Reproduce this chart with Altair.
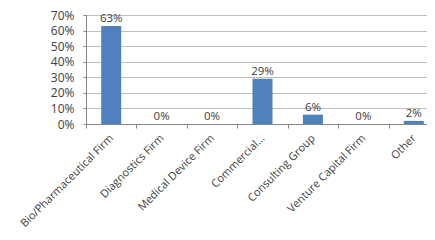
import altair as alt
import pandas as pd

categories = ["Bio/Pharmaceutical Firm", "Diagnostics Firm", "Medical Device Firm",
              "Commercial...", "Consulting Group", "Venture Capital Firm", "Other"]
values = [63, 0, 0, 29, 6, 0, 2]

df = pd.DataFrame({"cat": categories, "val": [v / 100 for v in values]})

font = "Open Sans"

x = alt.X("cat:N", sort=categories, title=None,
          scale=alt.Scale(paddingInner=0, paddingOuter=0, range=[0, 353]),
          axis=alt.Axis(labelAngle=-45, labelAlign="right", labelBaseline="top",
                        labelFont=font, labelFontSize=11, labelColor="#404040",
                        tickBand="extent", tickSize=4, tickColor="#868686",
                        domainColor="#868686", labelPadding=4, labelOffset=-4,
                        grid=False))
y = alt.Y("val:Q", title=None,
          scale=alt.Scale(domain=[0, 0.7], nice=False),
          axis=alt.Axis(format=".0%", values=[0, 0.1, 0.2, 0.3, 0.4, 0.5, 0.6, 0.7],
                        labelFont=font, labelFontSize=12, labelColor="#404040",
                        tickSize=3, tickColor="#868686", domainColor="#868686",
                        gridColor="#BFBFBF", labelPadding=9))

bars = alt.Chart(df).mark_bar(color="#4F81BD", size=20).encode(x=x, y=y)
text = alt.Chart(df).mark_text(dy=-2, baseline="bottom", font=font, fontSize=11.5,
                               color="#404040").encode(
    x=x, y=y, text=alt.Text("val:Q", format=".0%"))

chart = (bars + text).properties(
    width=341, height=109,
    autosize=alt.AutoSizeParams(type="none"),
    padding={"left": 78, "top": 7, "right": 0, "bottom": 108},
).configure_view(stroke=None)

chart.save("out.html", embed_options={"renderer": "svg", "actions": False})
